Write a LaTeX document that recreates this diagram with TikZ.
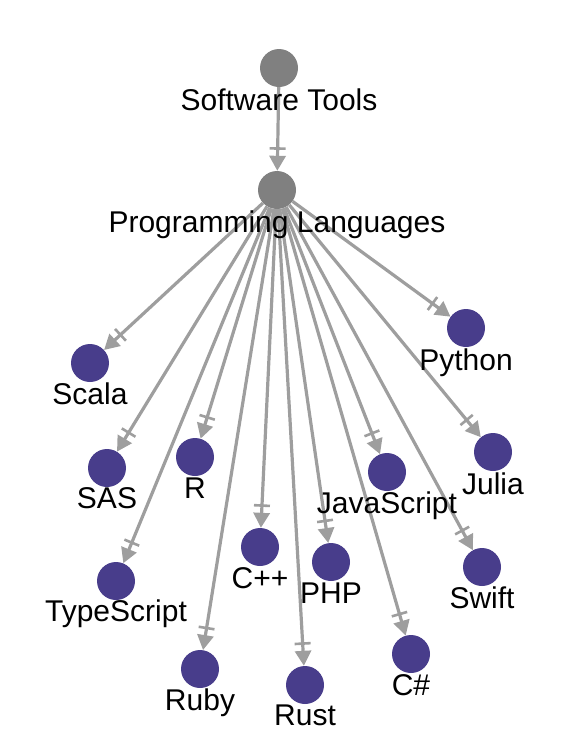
\documentclass[tikz,border=0pt]{standalone}
\usepackage{fontspec}
\setmainfont{Liberation Sans}
\usetikzlibrary{arrows.meta}
\definecolor{rootgray}{HTML}{808080}
\definecolor{leafpurple}{HTML}{483D8B}
\definecolor{edgegray}{HTML}{9E9E9E}
\tikzset{
  rootnode/.style={circle, fill=rootgray, minimum size=38pt, inner sep=0pt},
  leafnode/.style={circle, fill=leafpurple, minimum size=38pt, inner sep=0pt},
  lbl/.style={anchor=base, inner sep=0pt, text=black, font=\fontsize{30}{35}\selectfont},
  link/.style={draw=edgegray, line width=3.2pt,
    -{Bar[width=16pt,line width=2.6pt,sep=6pt] Triangle[length=15pt,width=16pt]}}
}
\begin{document}
\begin{tikzpicture}[x=1pt,y=-1pt]
\useasboundingbox (0,0) rectangle (572,750);
% nodes
\node[rootnode] (st) at (279,68) {};
\node[rootnode] (pl) at (277,190) {};
\node[leafnode] (python) at (466,328) {};
\node[leafnode] (scala) at (90,363) {};
\node[leafnode] (julia) at (493,452) {};
\node[leafnode] (sas) at (107,468) {};
\node[leafnode] (r) at (195,457) {};
\node[leafnode] (js) at (387,472) {};
\node[leafnode] (ts) at (116,581) {};
\node[leafnode] (cpp) at (260,547) {};
\node[leafnode] (php) at (331,562) {};
\node[leafnode] (swift) at (482,567) {};
\node[leafnode] (ruby) at (200,669) {};
\node[leafnode] (rust) at (305,685) {};
\node[leafnode] (cs) at (411,654) {};
% edges
\draw[link] (st) -- (pl);
\foreach \t in {python,scala,julia,sas,r,js,ts,cpp,php,swift,ruby,rust,cs}
  \draw[link] (pl) -- (\t);
% labels
\node[lbl] (stL) at (279,110) {Software Tools};
\node[lbl] (plL) at (277,232) {Programming Languages};
\node[lbl] (pythonL) at (466,370) {Python};
\node[lbl] (scalaL) at (90,404) {Scala};
\node[lbl] (juliaL) at (493,494) {Julia};
\node[lbl] (sasL) at (107,508) {SAS};
\node[lbl] (rL) at (195,498) {R};
\node[lbl] (jsL) at (387,513) {JavaScript};
\node[lbl] (tsL) at (116,621) {TypeScript};
\node[lbl] (cppL) at (260,588) {C++};
\node[lbl] (phpL) at (331,603) {PHP};
\node[lbl] (swiftL) at (482,608) {Swift};
\node[lbl] (rubyL) at (200,710) {Ruby};
\node[lbl] (rustL) at (305,725) {Rust};
\node[lbl] (csL) at (411,695) {C\#};
\end{tikzpicture}
\end{document}
